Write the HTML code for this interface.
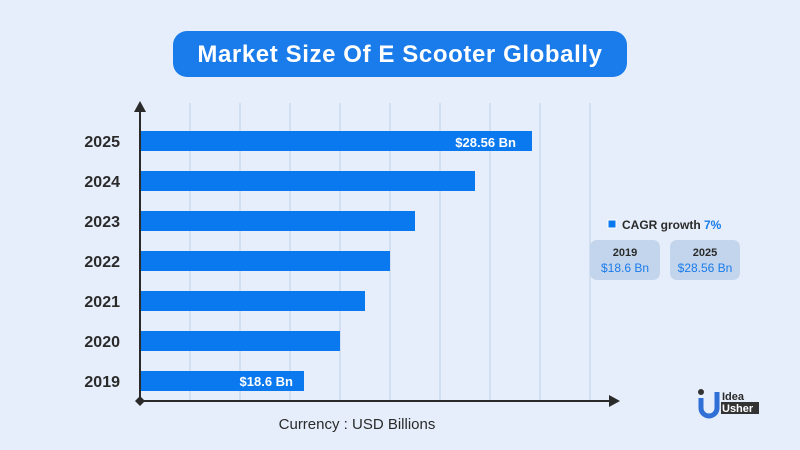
<!DOCTYPE html>
<html><head><style>
body{margin:0;width:800px;height:450px;background:#e5eefa;font-family:"Liberation Sans",sans-serif;overflow:hidden}
</style></head><body>
<svg width="800" height="450" xmlns="http://www.w3.org/2000/svg" style="position:absolute;left:0;top:0">
<rect width="800" height="450" fill="#e5eefa"/>
<rect x="173" y="31" width="454" height="46" rx="14" fill="#1a7bea"/>
<text x="400" y="62" text-anchor="middle" font-size="24" font-weight="bold" fill="#fff" letter-spacing="0.6">Market Size Of E Scooter Globally</text>
<g stroke="#bfd0e6" stroke-width="1">
<line x1="190" y1="103" x2="190" y2="401"/><line x1="240" y1="103" x2="240" y2="401"/>
<line x1="290" y1="103" x2="290" y2="401"/><line x1="340" y1="103" x2="340" y2="401"/>
<line x1="390" y1="103" x2="390" y2="401"/><line x1="440" y1="103" x2="440" y2="401"/>
<line x1="490" y1="103" x2="490" y2="401"/><line x1="540" y1="103" x2="540" y2="401"/>
<line x1="590" y1="103" x2="590" y2="401"/>
</g>
<g fill="#0a78ee">
<rect x="141" y="131" width="391" height="20"/>
<rect x="141" y="171" width="334" height="20"/>
<rect x="141" y="211" width="274" height="20"/>
<rect x="141" y="251" width="249" height="20"/>
<rect x="141" y="291" width="224" height="20"/>
<rect x="141" y="331" width="199" height="20"/>
<rect x="141" y="371" width="163" height="20"/>
</g>
<text x="516" y="147" text-anchor="end" font-size="13" font-weight="bold" fill="#fff">$28.56 Bn</text>
<text x="293" y="386" text-anchor="end" font-size="13" font-weight="bold" fill="#fff">$18.6 Bn</text>
<g font-size="16" font-weight="bold" fill="#2a2a2a" text-anchor="end">
<text x="120" y="147">2025</text><text x="120" y="187">2024</text><text x="120" y="227">2023</text>
<text x="120" y="267">2022</text><text x="120" y="307">2021</text><text x="120" y="347">2020</text>
<text x="120" y="387">2019</text>
</g>
<line x1="140" y1="110" x2="140" y2="401" stroke="#2a2a2a" stroke-width="2"/>
<polygon points="140,101 134,112 146,112" fill="#2a2a2a"/>
<line x1="140" y1="401" x2="612" y2="401" stroke="#2a2a2a" stroke-width="2"/>
<polygon points="620,401 609,395 609,407" fill="#2a2a2a"/>
<polygon points="140,396 145,401 140,406 135,401" fill="#2a2a2a"/>
<text x="357" y="429" text-anchor="middle" font-size="15" fill="#2a2a2a">Currency : USD Billions</text>
<rect x="608" y="220" width="8" height="8" fill="#0a78ee" stroke="#fff" stroke-width="1"/>
<text x="622" y="229" font-size="12" font-weight="bold" fill="#2a2a2a">CAGR growth <tspan fill="#1a7bea">7%</tspan></text>
<rect x="590" y="240" width="70" height="40" rx="7" fill="#c3d5ec"/>
<rect x="670" y="240" width="70" height="40" rx="7" fill="#c3d5ec"/>
<text x="625" y="256" text-anchor="middle" font-size="11" font-weight="bold" fill="#2a2a2a">2019</text>
<text x="625" y="272" text-anchor="middle" font-size="12" fill="#1a7bea">$18.6 Bn</text>
<text x="705" y="256" text-anchor="middle" font-size="11" font-weight="bold" fill="#2a2a2a">2025</text>
<text x="705" y="272" text-anchor="middle" font-size="12" fill="#1a7bea">$28.56 Bn</text>
<circle cx="701" cy="392" r="3" fill="#333"/>
<path d="M701 398 v10 a8 8 0 0 0 16 0 v-16" fill="none" stroke="#2f6fd6" stroke-width="5"/>
<text x="722" y="400" font-size="11" font-weight="bold" fill="#2a2a2a">Idea</text>
<rect x="721" y="402" width="38" height="12" fill="#333"/>
<text x="722" y="412" font-size="11" font-weight="bold" fill="#fff">Usher</text>
</svg>
</body></html>
